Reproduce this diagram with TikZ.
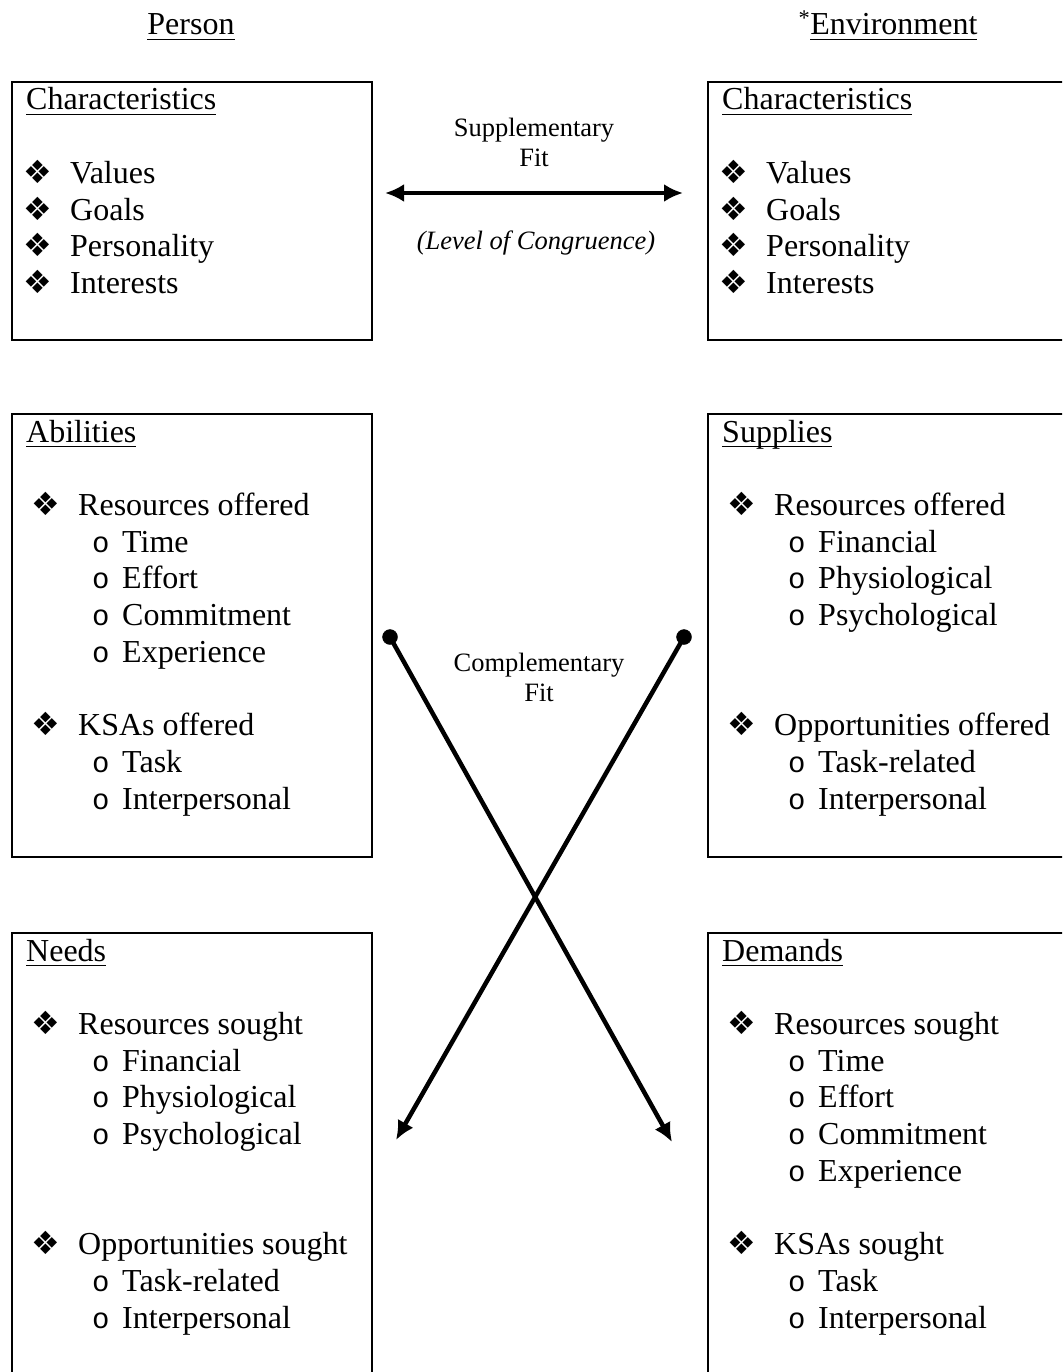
\documentclass[tikz,border=0pt]{standalone}
\usepackage{fontspec}
\setmainfont{Liberation Serif}
\newfontfamily\dingfont{DejaVu Sans}
\newfontfamily\ofont{Liberation Mono}
\usetikzlibrary{arrows.meta}

% underline at a fixed depth, as a word processor does
\newcommand{\uln}[1]{\setbox0\hbox{#1}\rlap{\vrule width\wd0 height -3.6pt depth 5.4pt}\box0}
% list entries
\newcommand{\charitem}[1]{\hspace*{-3pt}\makebox[47pt][l]{\dingfont\fontsize{32}{32}\selectfont ❖}#1}
\newcommand{\mainitem}[1]{\hspace*{5pt}\makebox[47pt][l]{\dingfont\fontsize{32}{32}\selectfont ❖}#1}
\newcommand{\subpoint}[1]{\hspace*{66pt}\makebox[30pt][l]{\ofont\fontsize{29}{29}\selectfont o}#1}

\begin{document}
\begin{tikzpicture}[x=1pt,y=-1pt,
		box/.style={draw,line width=2pt,anchor=north west,inner sep=0pt,minimum width=360pt},
		list/.style={anchor=base west,inner sep=0pt,font=\fontsize{32}{36.7}\selectfont},
		head/.style={anchor=base,inner sep=0pt,font=\fontsize{32}{36.7}\selectfont},
		fitlbl/.style={anchor=base,inner sep=0pt,font=\fontsize{26.5}{30}\selectfont}]
		\clip (0,0) rectangle (1062,1372);

		\node[head] (person) at (191,35) {\uln{Person}};
		\node[head] (env) at (888,35) {\textsuperscript{*}\uln{Environment}};

		% boxes
		\node[box,minimum height=258pt] (pchar) at (11,81) {};
		\node[box,minimum height=258pt] (echar) at (707,81) {};
		\node[box,minimum height=443pt] (pabil) at (11,413) {};
		\node[box,minimum height=443pt] (esupp) at (707,413) {};
		\node[box,minimum height=460pt] (pneed) at (11,932) {};
		\node[box,minimum height=460pt] (edem) at (707,932) {};

		\node[list] (pcharlist) at (26,110) {\begin{tabular}[t]{@{}l@{}}
			\uln{Characteristics}\\ \\
			\charitem{Values}\\ \charitem{Goals}\\ \charitem{Personality}\\ \charitem{Interests}
		\end{tabular}};
		\node[list] (echarlist) at (722,110) {\begin{tabular}[t]{@{}l@{}}
			\uln{Characteristics}\\ \\
			\charitem{Values}\\ \charitem{Goals}\\ \charitem{Personality}\\ \charitem{Interests}
		\end{tabular}};
		\node[list] (pabillist) at (26,442) {\begin{tabular}[t]{@{}l@{}}
			\uln{Abilities}\\ \\
			\mainitem{Resources offered}\\ \subpoint{Time}\\ \subpoint{Effort}\\ \subpoint{Commitment}\\ \subpoint{Experience}\\ \\
			\mainitem{KSAs offered}\\ \subpoint{Task}\\ \subpoint{Interpersonal}
		\end{tabular}};
		\node[list] (esupplist) at (722,442) {\begin{tabular}[t]{@{}l@{}}
			\uln{Supplies}\\ \\
			\mainitem{Resources offered}\\ \subpoint{Financial}\\ \subpoint{Physiological}\\ \subpoint{Psychological}\\ \\ \\
			\mainitem{Opportunities offered}\\ \subpoint{Task-related}\\ \subpoint{Interpersonal}
		\end{tabular}};
		\node[list] (pneedlist) at (26,961) {\begin{tabular}[t]{@{}l@{}}
			\uln{Needs}\\ \\
			\mainitem{Resources sought}\\ \subpoint{Financial}\\ \subpoint{Physiological}\\ \subpoint{Psychological}\\ \\ \\
			\mainitem{Opportunities sought}\\ \subpoint{Task-related}\\ \subpoint{Interpersonal}
		\end{tabular}};
		\node[list] (edemlist) at (722,961) {\begin{tabular}[t]{@{}l@{}}
			\uln{Demands}\\ \\
			\mainitem{Resources sought}\\ \subpoint{Time}\\ \subpoint{Effort}\\ \subpoint{Commitment}\\ \subpoint{Experience}\\ \\
			\mainitem{KSAs sought}\\ \subpoint{Task}\\ \subpoint{Interpersonal}
		\end{tabular}};

		% fit arrows
		\coordinate (supL) at (385,193);
		\coordinate (supR) at (683,193);
		\coordinate (cmpA) at (390,637);
		\coordinate (cmpB) at (672,1142);
		\coordinate (cmpC) at (684,637);
		\coordinate (cmpD) at (396,1140);
		\begin{scope}[line width=4.5pt,>={Latex[length=19pt,width=18pt]}]
			\draw[<->] (supL) -- (supR);
			\draw[->] (cmpA) -- (cmpB);
			\draw[->] (cmpC) -- (cmpD);
		\end{scope}
		\draw[fill=black] (cmpA) circle (7.5pt);
		\draw[fill=black] (cmpC) circle (7.5pt);

		\node[fitlbl] (suplbl) at (534,137) {\begin{tabular}[t]{@{}c@{}}Supplementary\\Fit\end{tabular}};
		\node[fitlbl] (conglbl) at (536,250) {\textit{(Level of Congruence)}};
		\node[fitlbl] (cmplbl) at (539,671) {\begin{tabular}[t]{@{}c@{}}Complementary\\Fit\end{tabular}};
\end{tikzpicture}
\end{document}
